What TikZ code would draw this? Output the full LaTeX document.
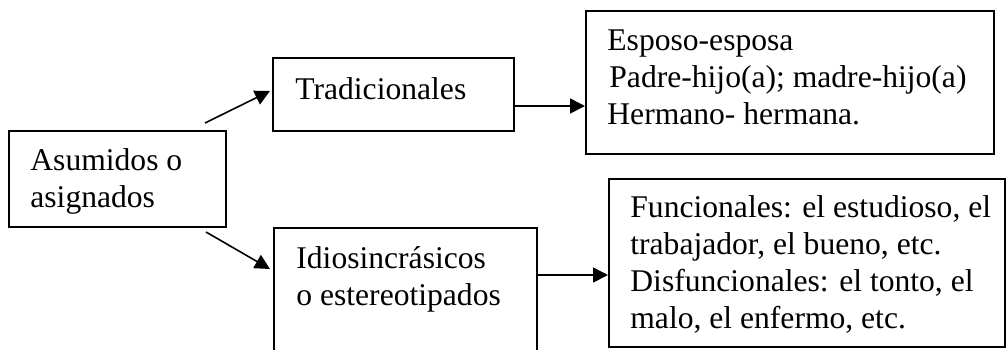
\documentclass[tikz,border=0pt]{standalone}
\usepackage{fontspec}
\setmainfont{Liberation Serif}
\usetikzlibrary{arrows.meta,fit}

\begin{document}
\begin{tikzpicture}[x=0.5pt,y=-0.5pt,
  box/.style={rectangle,draw,line width=1pt,inner sep=0pt},
  txt/.style={font=\fontsize{15.8pt}{18.5pt}\selectfont,align=left,inner sep=0pt,anchor=base west},
  arr/.style={-{Triangle[length=7.5pt,width=7.5pt]},line width=0.8pt}]

\useasboundingbox (0,0) rectangle (1006,349);

% boxes
\node[box,fit={(9,131) (226,227)}] (asig) {};
\node[box,fit={(273,58) (514,131)}] (trad) {};
\node[box,fit={(274,228) (537,380)}] (idio) {};
\node[box,fit={(586,11) (994,154)}] (esp) {};
\node[box,fit={(609,179) (1005,347)}] (func) {};

% texts (placed at the baseline of their last line)
\node[txt] (tasig) at (30,207) {Asumidos o\\asignados};
\node[txt] (ttrad) at (295,99) {Tradicionales};
\node[txt] (tidio) at (296,305) {Idiosincrásicos\\o estereotipados};
\node[txt] (tesp) at (607,124) {Esposo-esposa\\\hspace{1pt}Padre-hijo(a); madre-hijo(a)\\Hermano- hermana.};
\node[txt] (tfunc) at (630,328) {Funcionales: el estudioso, el\\trabajador, el bueno, etc.\\Disfuncionales: el tonto, el\\malo, el enfermo, etc.};

% connectors
\coordinate (a1) at (205,123); \coordinate (a2) at (270,91);
\coordinate (b1) at (206,232); \coordinate (b2) at (270,269);
\draw[arr] (a1) -- (a2);
\draw[arr] (b1) -- (b2);
\coordinate (tr) at ([yshift=-5.75pt]trad.east);
\coordinate (id) at (idio.east |- 0,275);
\draw[arr] (tr) -- (tr -| esp.west);
\draw[arr] (id) -- (id -| func.west);
\end{tikzpicture}
\end{document}
